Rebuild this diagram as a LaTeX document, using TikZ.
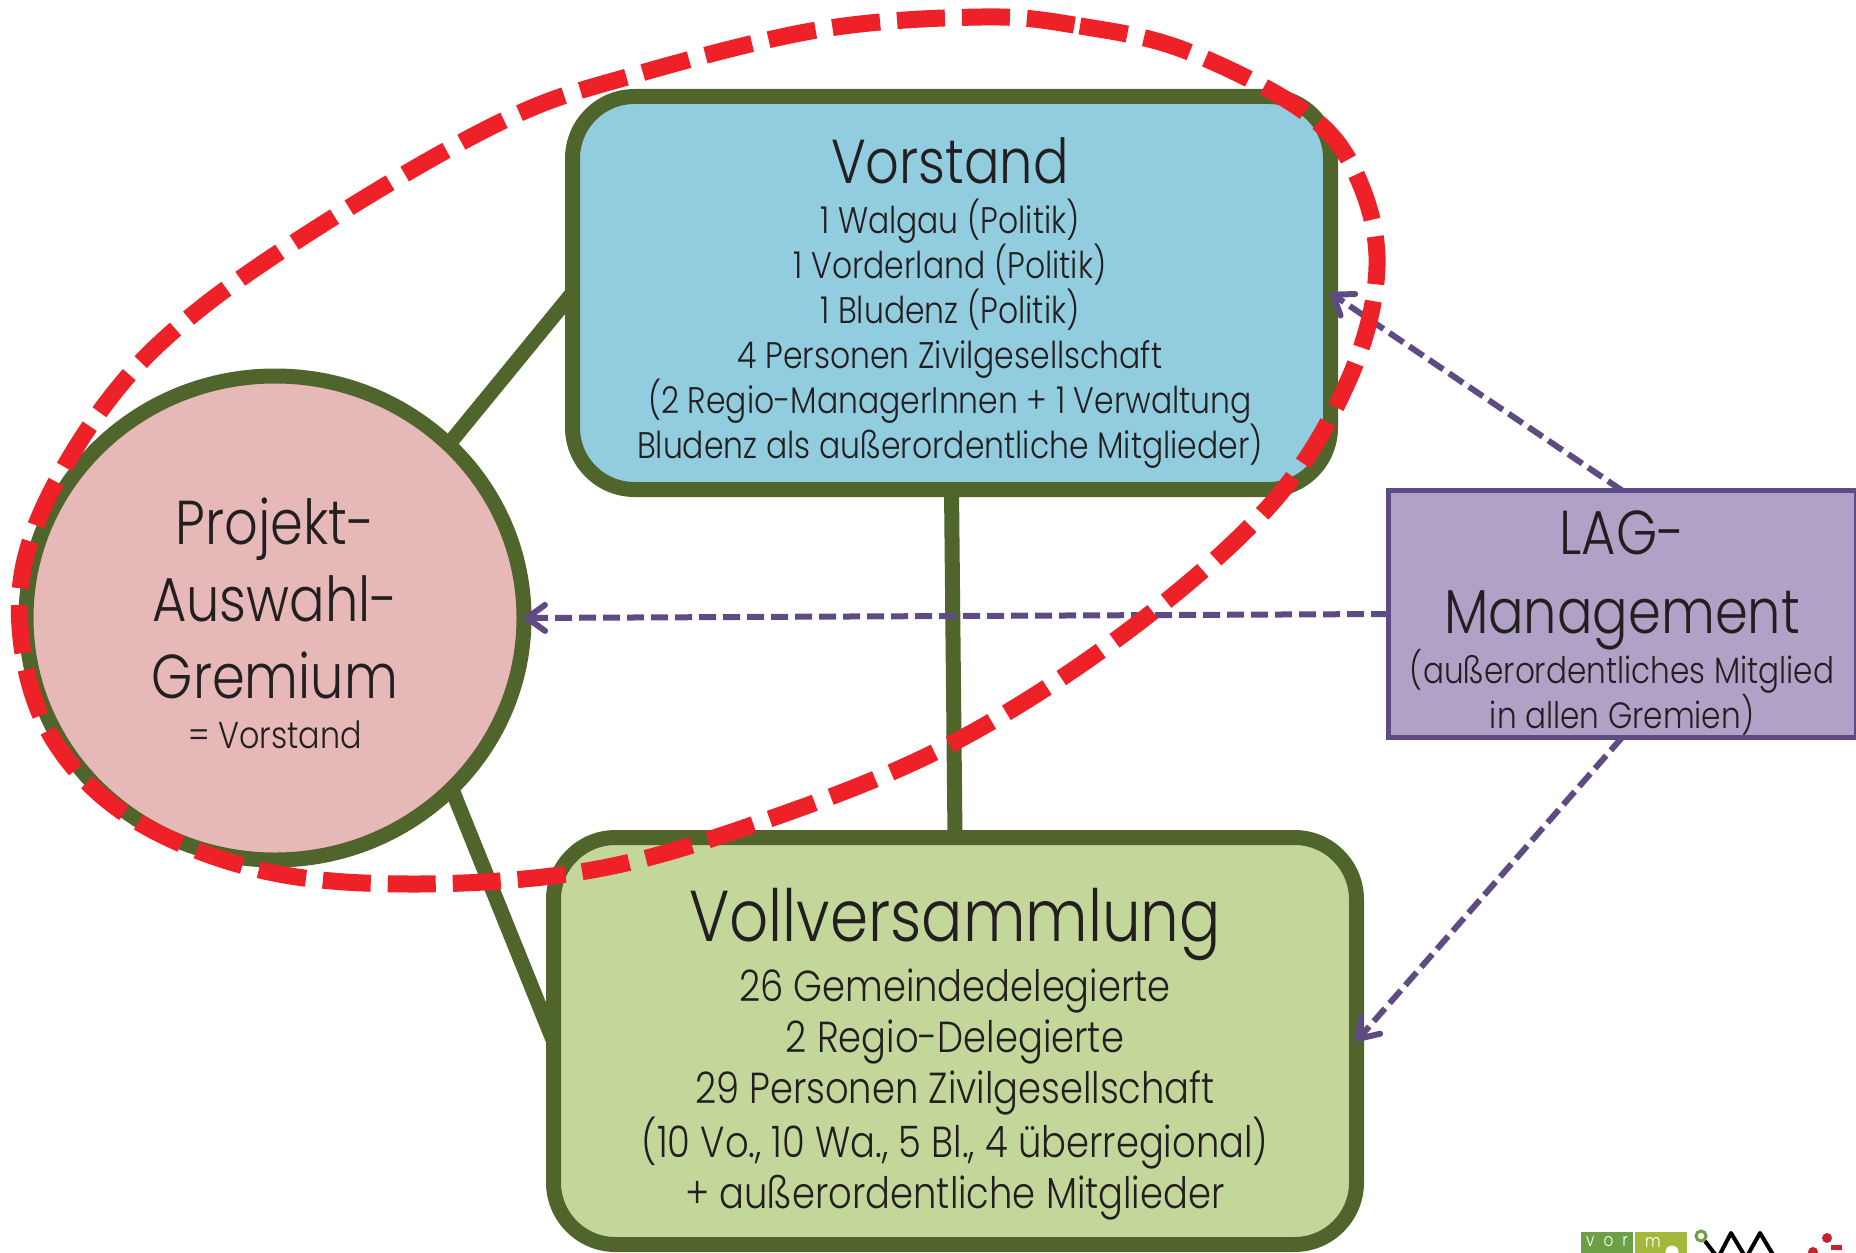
\documentclass[tikz,border=0pt]{standalone}
\usepackage{fontspec}
\setmainfont{Poppins Light}[FakeStretch=0.85]
\usetikzlibrary{shapes.geometric,arrows.meta,backgrounds}
\definecolor{gbord}{HTML}{50652C}
\definecolor{cblue}{HTML}{92CDDF}
\definecolor{cpink}{HTML}{E7B8B8}
\definecolor{cgreen}{HTML}{C4D79B}
\definecolor{cred}{HTML}{EE2028}
\definecolor{cink}{HTML}{231F20}
\definecolor{cpur}{HTML}{5F4B84}
\definecolor{cpurf}{HTML}{B0A1C6}
\definecolor{logoa}{HTML}{6D9F45}
\definecolor{logob}{HTML}{A5B83B}
\definecolor{logor}{HTML}{C8202E}
\newcommand{\tsize}[2]{\fontsize{#1}{#2}\selectfont}
\tikzset{
  gbox/.style={draw=gbord,line width=7.5pt,rounded corners=31pt,outer sep=0pt,inner sep=0pt},
  gcirc/.style={ellipse,draw=gbord,line width=7.5pt,fill=cpink,outer sep=0pt,inner sep=0pt},
  conn/.style={draw=gbord,line width=7.5pt},
  mgmt/.style={draw=cpur,line width=2.5pt,fill=cpurf,outer sep=0pt,inner sep=0pt},
  lagarrow/.style={draw=cpur,line width=3pt,dash pattern=on 8.5pt off 3.5pt,-{Straight Barb[length=9pt,width=13pt,line cap=round,line join=round]}},
  reddash/.style={draw=cred,line width=8.5pt,dash pattern=on 24pt off 8.5pt},
  txt/.style={text=cink,align=center,inner sep=0pt,outer sep=0pt},
  logobox/.style={inner sep=0pt,outer sep=0pt,text=white,anchor=north west,minimum width=26pt,minimum height=14pt},
  logotxt/.style={inner sep=0pt,outer sep=0pt,text=white,anchor=base}
}
\begin{document}
\begin{tikzpicture}[x=0.5pt,y=-0.5pt]
\useasboundingbox (0,0) rectangle (1856,1252);
\clip (0,0) rectangle (1856,1252);
\node[gbox,fill=cblue,minimum width=379pt,minimum height=196.5pt] (vorstand) at (951.5,293) {};
\node[gbox,fill=cgreen,minimum width=401.5pt,minimum height=203.5pt] (voll) at (955,1041) {};
\node[gcirc,minimum width=249pt,minimum height=242pt] (pag) at (275,618) {};
\node[mgmt,minimum width=234pt,minimum height=123.5pt] (lag) at (1622,614) {};
\begin{pgfonlayer}{background}
\draw[conn] (pag.45) -- (vorstand.west);
\draw[conn] (pag.-44) -- (voll.west);
\draw[conn] (vorstand.south) -- (voll.north);
\end{pgfonlayer}
\node[txt,font=\tsize{18.5}{22.5}] (vtext) at (950,303) {{\tsize{31}{31}Vorstand}\\[2.5pt]1 Walgau (Politik)\\1 Vorderland (Politik)\\1 Bludenz (Politik)\\4 Personen Zivilgesellschaft\\(2 Regio-ManagerInnen + 1 Verwaltung\\Bludenz als außerordentliche Mitglieder)};
\node[txt,font=\tsize{21.7}{25.5}] (volltext) at (955,1054) {{\tsize{36}{36}Vollversammlung}\\[3pt]26 Gemeindedelegierte\\2 Regio-Delegierte\\29 Personen Zivilgesellschaft\\(10 Vo., 10 Wa., 5 Bl., 4 überregional)\\+ außerordentliche Mitglieder};
\node[txt,font=\tsize{31}{38.5}] (pagtext) at (275,623) {Projekt-\\Auswahl-\\Gremium\\[-13.5pt]{\tsize{18.7}{18.7}= Vorstand}};
\node[txt,font=\tsize{18.3}{22.5}] (lagtext) at (1622,623) {{\tsize{31}{31}LAG-}\\[17pt]{\tsize{31}{31}Management}\\[-1pt](außerordentliches Mitglied\\in allen Gremien)};
\draw[lagarrow] (lag.north) -- (vorstand.east);
\draw[lagarrow] (lag.west) -- (pag.east);
\draw[lagarrow] (lag.south) -- (voll.east);
\draw[reddash] plot[smooth cycle,tension=0.6] coordinates {(982,17) (1080,26) (1184,50) (1302,110) (1355,172) (1377,266) (1349,379) (1272,503) (1125,633) (947,746) (758,823) (592,870) (414,884) (260,870) (130,817) (50,734) (20,627) (36,525) (107,402) (201,308) (355,204) (509,118) (627,77) (817,30)};
% logos
\node[logobox,fill=logoa] (la) at (1581,1232) {};
\node[logobox,fill=logob] (lb) at (1635,1232) {};
\node[logotxt] (lat) at (1607,1246) {\tsize{9}{9}v\,\,\,o\,\,\,r};
\node[logotxt] (lbt) at (1653,1247) {\tsize{9}{9}m};
\node[circle,fill=white,minimum size=6.5pt,inner sep=0pt] (lbo) at (1672,1252) {};
\node[circle,draw=logoa,line width=1.5pt,fill=white,minimum size=5pt,inner sep=0pt] (ring) at (1701,1236) {};
\draw[black,line width=2pt,line join=round] (ring) -- (1718,1258) -- (1731,1233) -- (1746,1258) -- (1760,1233) -- (1775,1258);
\fill[logor] (1827,1238) circle (2.5pt) (1813,1252) circle (2.5pt);
\fill[logor] (1831,1245) rectangle (1842,1250);
\end{tikzpicture}
\end{document}
